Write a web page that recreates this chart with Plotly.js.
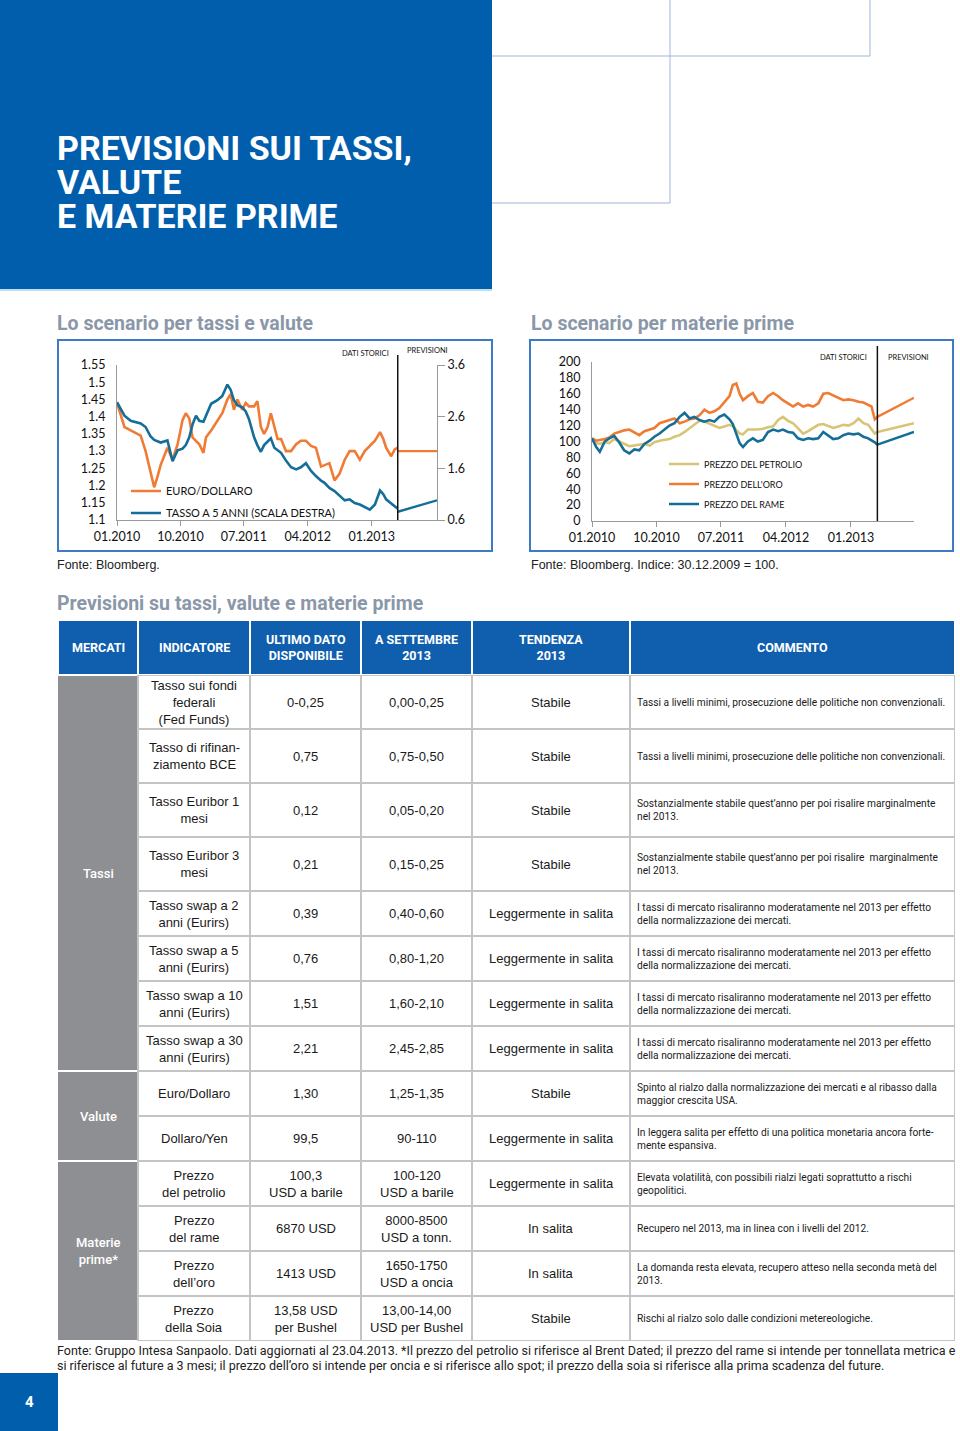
<!DOCTYPE html>
<html><head><meta charset="utf-8">
<script src="https://cdn.plot.ly/plotly-3.0.1.min.js"></script>
<style>html,body{margin:0;padding:0;background:#fff;}#page{width:960px;height:1431px;}</style>
</head><body><div id="page"></div>
<script>
// ---------------- DATA ----------------
// Chart 1: Euro/Dollaro (left axis) and Tasso a 5 anni (right axis)
const fxDates = ['2010-01-01','2010-02-02','2010-03-01','2010-04-13','2010-05-04','2010-05-25','2010-06-10','2010-06-24','2010-07-08','2010-08-06','2010-08-28','2010-09-19','2010-10-10','2010-10-24','2010-11-08','2010-11-22','2010-12-07','2010-12-21',
 '2011-01-08','2011-01-19','2011-02-10','2011-03-09','2011-03-30','2011-04-21','2011-05-05','2011-05-19','2011-06-03','2011-06-24','2011-07-09','2011-07-23','2011-08-14','2011-08-28','2011-09-12','2011-09-26','2011-10-11','2011-10-25','2011-11-09','2011-11-23','2011-12-08','2011-12-29',
 '2012-01-20','2012-02-11','2012-03-02','2012-03-24','2012-04-15','2012-05-06','2012-05-28','2012-06-12','2012-07-03','2012-07-25','2012-08-16','2012-09-07','2012-09-28','2012-10-20','2012-11-11','2012-12-02','2012-12-24',
 '2013-01-15','2013-02-06','2013-02-20','2013-03-04','2013-03-26','2013-04-10','2013-04-23'];
const eurUsd = [1.44,1.37,1.36,1.345,1.30,1.235,1.195,1.225,1.26,1.31,1.275,1.32,1.39,1.41,1.395,1.34,1.33,1.32,
 1.295,1.34,1.36,1.39,1.41,1.45,1.465,1.42,1.45,1.42,1.44,1.43,1.43,1.445,1.37,1.35,1.37,1.41,1.37,1.335,1.335,1.30,
 1.30,1.32,1.33,1.33,1.315,1.31,1.255,1.26,1.265,1.215,1.235,1.275,1.30,1.30,1.275,1.30,1.315,
 1.33,1.355,1.335,1.31,1.285,1.305,1.31];
const swap5y = [2.88,2.62,2.52,2.47,2.40,2.22,2.15,2.12,2.10,2.14,1.74,1.95,1.98,2.05,2.20,2.45,2.62,2.52,
 2.50,2.62,2.85,2.92,3.00,3.22,3.12,2.92,2.82,2.78,2.70,2.55,2.20,2.05,1.92,2.05,2.12,2.18,2.00,1.95,1.90,1.75,
 1.62,1.58,1.62,1.70,1.55,1.45,1.36,1.32,1.22,1.16,1.06,0.98,1.00,0.93,0.90,0.85,0.80,
 0.90,1.17,1.10,1.00,0.92,0.86,0.82];
const fxForecastDates = ['2013-04-23','2013-10-09'];
const eurUsdForecast = [1.30,1.30];
const swap5yForecast = [0.76,0.98];
const cutoffDate = '2013-04-23';
const xTickDates = ['2010-01-01','2010-10-01','2011-07-01','2012-04-01','2013-01-01'];

// Chart 2: commodities index (30.12.2009 = 100)
const cmdDates = ['2010-01-01','2010-01-19','2010-02-03','2010-02-24','2010-03-15','2010-04-05','2010-04-26','2010-05-17','2010-06-08','2010-06-29','2010-07-20','2010-08-11','2010-09-02','2010-09-22','2010-10-14','2010-11-04','2010-11-25','2010-12-16',
 '2011-01-07','2011-01-28','2011-02-18','2011-03-10','2011-04-01','2011-04-22','2011-05-13','2011-06-03','2011-06-24','2011-07-15','2011-08-06','2011-08-20','2011-09-04','2011-09-18','2011-10-02','2011-10-23','2011-11-13','2011-12-04','2011-12-25',
 '2012-01-16','2012-02-07','2012-02-28','2012-03-19','2012-04-10','2012-05-01','2012-05-22','2012-06-13','2012-07-04','2012-07-25','2012-08-16','2012-09-06','2012-09-27','2012-10-18','2012-11-09','2012-11-30','2012-12-21',
 '2013-01-12','2013-02-02','2013-02-23','2013-03-15','2013-03-29','2013-04-12','2013-04-23'];
const oilIndex = [102,98,97,99,98,103,100,97,94,95,96,97,95,99,101,102,103,106,
 108,112,117,121,126,125,122,120,117,119,121,119,115,110,109,115,115,115,116,
 118,119,127,131,126,123,117,110,113,117,121,122,119,117,119,121,120,
 123,129,123,121,115,110,112];
const goldIndex = [104,101,102,103,105,110,112,114,115,112,108,113,115,117,123,125,127,129,
 123,125,128,129,133,140,136,138,142,150,157,171,173,160,152,157,161,150,149,
 157,161,157,152,148,144,148,144,146,144,148,160,161,158,154,152,153,
 152,150,149,146,144,128,131];
const copperIndex = [104,93,87,100,104,107,99,89,85,90,89,97,101,106,110,115,120,123,
 131,136,129,131,127,125,127,125,131,134,128,122,110,98,93,100,104,100,102,
 112,115,113,115,112,111,104,102,104,103,104,112,108,103,104,108,110,
 109,110,106,104,102,99,96];
const cmdForecastDates = ['2013-04-23','2013-09-25'];
const oilForecast = [112,123];
const goldForecast = [131,155];
const copperForecast = [96,112];

// Table
const tableHeaders = ['MERCATI','INDICATORE','ULTIMO DATO<br>DISPONIBILE','A SETTEMBRE<br>2013','TENDENZA<br>2013','COMMENTO'];
const marketGroups = ['Tassi','Valute','Materie<br>prime*'];
const marketGroupSizes = [8,2,4];
const indicators = ['Tasso sui fondi<br>federali<br>(Fed Funds)','Tasso di rifinan-<br>ziamento BCE','Tasso Euribor 1<br>mesi','Tasso Euribor 3<br>mesi',
 'Tasso swap a 2<br>anni (Eurirs)','Tasso swap a 5<br>anni (Eurirs)','Tasso swap a 10<br>anni (Eurirs)','Tasso swap a 30<br>anni (Eurirs)',
 'Euro/Dollaro','Dollaro/Yen','Prezzo<br>del petrolio','Prezzo<br>del rame','Prezzo<br>dell’oro','Prezzo<br>della Soia'];
const lastAvailable = ['0-0,25','0,75','0,12','0,21','0,39','0,76','1,51','2,21','1,30','99,5','100,3<br>USD a barile','6870 USD','1413 USD','13,58 USD<br>per Bushel'];
const septemberForecast = ['0,00-0,25','0,75-0,50','0,05-0,20','0,15-0,25','0,40-0,60','0,80-1,20','1,60-2,10','2,45-2,85','1,25-1,35','90-110','100-120<br>USD a barile','8000-8500<br>USD a tonn.','1650-1750<br>USD a oncia','13,00-14,00<br>USD per Bushel'];
const trend2013 = ['Stabile','Stabile','Stabile','Stabile','Leggermente in salita','Leggermente in salita','Leggermente in salita','Leggermente in salita','Stabile','Leggermente in salita','Leggermente in salita','In salita','In salita','Stabile'];
const comments = [
 'Tassi a livelli minimi, prosecuzione delle politiche non convenzionali.',
 'Tassi a livelli minimi, prosecuzione delle politiche non convenzionali.',
 'Sostanzialmente stabile quest’anno per poi risalire marginalmente<br>nel 2013.',
 'Sostanzialmente stabile quest’anno per poi risalire  marginalmente<br>nel 2013.',
 'I tassi di mercato risaliranno moderatamente nel 2013 per effetto<br>della normalizzazione dei mercati.',
 'I tassi di mercato risaliranno moderatamente nel 2013 per effetto<br>della normalizzazione dei mercati.',
 'I tassi di mercato risaliranno moderatamente nel 2013 per effetto<br>della normalizzazione dei mercati.',
 'I tassi di mercato risaliranno moderatamente nel 2013 per effetto<br>della normalizzazione dei mercati.',
 'Spinto al rialzo dalla normalizzazione dei mercati e al ribasso dalla<br>maggior crescita USA.',
 'In leggera salita per effetto di una politica monetaria ancora forte-<br>mente espansiva.',
 'Elevata volatilità, con possibili rialzi legati soprattutto a rischi<br>geopolitici.',
 'Recupero nel 2013, ma in linea con i livelli del 2012.',
 'La domanda resta elevata, recupero atteso nella seconda metà del<br>2013.',
 'Rischi al rialzo solo dalle condizioni metereologiche.'];

// Page texts
const pageTitle = ['PREVISIONI SUI TASSI,','VALUTE','E MATERIE PRIME'];
const heading1 = 'Lo scenario per tassi e valute';
const heading2 = 'Lo scenario per materie prime';
const heading3 = 'Previsioni su tassi, valute e materie prime';
const source1 = 'Fonte: Bloomberg.';
const source2 = 'Fonte: Bloomberg. Indice: 30.12.2009 = 100.';
const footnote = ['Fonte: Gruppo Intesa Sanpaolo. Dati aggiornati al 23.04.2013. *Il prezzo del petrolio si riferisce al Brent Dated; il prezzo del rame si intende per tonnellata metrica e',
 'si riferisce al future a 3 mesi; il prezzo dell’oro si intende per oncia e si riferisce allo spot; il prezzo della soia si riferisce alla prima scadenza del future.'];
const pageNumber = '4';

// ---------------- STYLE ----------------
const W = 960, H = 1431;
const px = v => v / W, py = v => 1 - v / H;
const BLUE = '#005EAD', HEAD_BLUE = '#0F5FAE', GRID = '#C4C4C4', MGREY = '#8E8F92';
const ORANGE = '#EF7B35', TEAL = '#156E98', KHAKI = '#D8C474';
const fChart = 'Lato, "Open Sans", sans-serif';
const fBody = '"Liberation Sans", Arial, sans-serif';
const fNarrow = 'Roboto, "Liberation Sans", sans-serif';

const shapes = [], annotations = [];
function rectPaper(x0,y0,x1,y1,fill,line){ shapes.push({type:'rect',xref:'paper',yref:'paper',x0:px(x0),x1:px(x1),y0:py(y1),y1:py(y0),fillcolor:fill||'rgba(0,0,0,0)',line:line||{width:0}}); }
function linePaper(x0,y0,x1,y1,color,width){ shapes.push({type:'line',xref:'paper',yref:'paper',x0:px(x0),y0:py(y0),x1:px(x1),y1:py(y1),line:{color:color,width:width}}); }
function textPaper(text,x,y,font,xanchor){ annotations.push({text:text,x:px(x),y:py(y),xref:'paper',yref:'paper',xanchor:xanchor||'left',yanchor:'middle',showarrow:false,font:font,align:'left',borderpad:0}); }

// Page decoration
rectPaper(0,0,492,289,BLUE);
linePaper(0,290,492,290,'#A9D6EE',1.5);
linePaper(670,0,670,203,'#A3B3DA',1);
linePaper(492,56,870,56,'#A3B3DA',1);
linePaper(870,0,870,56,'#A3B3DA',1);
linePaper(492,203,670,203,'#A3B3DA',1);
// title: one block, tight leading (line step = 1.3 x 26px base), glyphs at 34px
textPaper(pageTitle.map(t=>'<span style="font-size:34px"><b>'+t+'</b></span>').join('<br>'),56,182,{family:fNarrow,size:26,color:'#ffffff'});
textPaper('<b>'+heading1+'</b>',56,323,{family:fNarrow,size:19.5,color:'#8A97A9'});
textPaper('<b>'+heading2+'</b>',530,323,{family:fNarrow,size:19.5,color:'#8A97A9'});
textPaper('<b>'+heading3+'</b>',56,604,{family:fNarrow,size:19.5,color:'#8A97A9'});
textPaper(source1,56,565,{family:fBody,size:12.5,color:'#222'});
textPaper(source2,530,565,{family:fBody,size:12.5,color:'#222'});
textPaper(footnote[0],56,1350,{family:fNarrow,size:12.5,color:'#222'});
textPaper(footnote[1],56,1365,{family:fNarrow,size:12.5,color:'#222'});
rectPaper(0,1373,58,1431,BLUE);
textPaper('<b>'+pageNumber+'</b>',29,1402,{family:fNarrow,size:15,color:'#ffffff'},'center');

// chart boxes
rectPaper(58,340,492,551,null,{color:'#3D7BC5',width:2});
rectPaper(530,340,953,551,null,{color:'#3D7BC5',width:2});

// cutoff lines and labels
shapes.push({type:'line',xref:'x',yref:'paper',x0:cutoffDate,x1:cutoffDate,y0:py(520),y1:py(355),line:{color:'#111',width:1.5}});
shapes.push({type:'line',xref:'x3',yref:'paper',x0:cutoffDate,x1:cutoffDate,y0:py(521),y1:py(346),line:{color:'#111',width:1.5}});
const smallLab = {family:fChart,size:7.5,color:'#111'};
annotations.push({text:'DATI STORICI',xref:'x',yref:'paper',x:cutoffDate,y:py(353),xanchor:'right',yanchor:'middle',xshift:-7,showarrow:false,font:smallLab});
annotations.push({text:'PREVISIONI',xref:'x',yref:'paper',x:cutoffDate,y:py(351),xanchor:'left',yanchor:'middle',xshift:7,showarrow:false,font:smallLab});
annotations.push({text:'DATI STORICI',xref:'x3',yref:'paper',x:cutoffDate,y:py(357),xanchor:'right',yanchor:'middle',xshift:-8,showarrow:false,font:smallLab});
annotations.push({text:'PREVISIONI',xref:'x3',yref:'paper',x:cutoffDate,y:py(357),xanchor:'left',yanchor:'middle',xshift:9,showarrow:false,font:smallLab});

// ---------------- TABLE (drawn on hidden axes x4/y4, 1 unit = 1 px) ----------------
const colW = [80,112,111,111,158,325];
const headerH = 55;
const rowH = [54,54,54,54,45,45,45,45,45,45,45,45,45,45];
const colEdge = [0]; colW.forEach(w=>colEdge.push(colEdge[colEdge.length-1]+w));
const rowTop = [headerH]; rowH.forEach(h=>rowTop.push(rowTop[rowTop.length-1]+h));
const tableW = colEdge[colEdge.length-1], tableH = rowTop[rowTop.length-1];
function rectT(x0,y0,x1,y1,fill){ shapes.push({type:'rect',xref:'x4',yref:'y4',x0:x0,x1:x1,y0:y0,y1:y1,fillcolor:fill,line:{width:0}}); }
function textT(text,x,y,font,xanchor,align){ annotations.push({text:text,x:x,y:y,xref:'x4',yref:'y4',xanchor:xanchor,yanchor:'middle',align:align,showarrow:false,font:font,borderpad:0}); }

tableHeaders.forEach((h,c)=>{
  rectT(colEdge[c]+1,1,colEdge[c+1]-1,headerH-1,HEAD_BLUE);
  textT('<b>'+h+'</b>',(colEdge[c]+colEdge[c+1])/2,headerH/2,{family:fNarrow,size:12.5,color:'#ffffff'},'center','center');
});
rectT(colEdge[1]-1,headerH,tableW,tableH,GRID);
let startRow = 0;
marketGroups.forEach((g,i)=>{
  const y0 = rowTop[startRow], y1 = rowTop[startRow+marketGroupSizes[i]];
  rectT(0,y0+1,colEdge[1]-1,y1-1,MGREY);
  textT(g,colEdge[1]/2,(y0+y1)/2,{family:fNarrow,size:13,color:'#ffffff',weight:500},'center','center');
  startRow += marketGroupSizes[i];
});
const bodyCols = [indicators,lastAvailable,septemberForecast,trend2013,comments];
indicators.forEach((_,r)=>{
  const yc = (rowTop[r]+rowTop[r+1])/2;
  bodyCols.forEach((col,k)=>{
    const c = k+1;
    rectT(colEdge[c]+1,rowTop[r]+1,colEdge[c+1]-1,rowTop[r+1]-1,'#ffffff');
    if (c===5) textT(col[r],colEdge[c]+6,yc,{family:fNarrow,size:10.2,color:'#1a1a1a'},'left','left');
    else textT(col[r],(colEdge[c]+colEdge[c+1])/2,yc,{family:fBody,size:13,color:'#1a1a1a'},'center','center');
  });
});

// ---------------- TRACES ----------------
const traces = [
  {x:fxDates,y:eurUsd,type:'scatter',mode:'lines',name:'EURO/DOLLARO',line:{color:ORANGE,width:2.6},xaxis:'x',yaxis:'y',legend:'legend',legendgroup:'a'},
  {x:fxDates,y:swap5y,type:'scatter',mode:'lines',name:'TASSO A 5 ANNI (SCALA DESTRA)',line:{color:TEAL,width:2.6},xaxis:'x',yaxis:'y2',legend:'legend',legendgroup:'b'},
  {x:fxForecastDates,y:eurUsdForecast,type:'scatter',mode:'lines',showlegend:false,line:{color:ORANGE,width:2.4},xaxis:'x',yaxis:'y'},
  {x:fxForecastDates,y:swap5yForecast,type:'scatter',mode:'lines',showlegend:false,line:{color:TEAL,width:2.4},xaxis:'x',yaxis:'y2'},
  {x:cmdDates,y:oilIndex,type:'scatter',mode:'lines',name:'PREZZO DEL PETROLIO',line:{color:KHAKI,width:2.6},xaxis:'x3',yaxis:'y3',legend:'legend2',legendgroup:'c'},
  {x:cmdDates,y:goldIndex,type:'scatter',mode:'lines',name:"PREZZO DELL'ORO",line:{color:ORANGE,width:2.6},xaxis:'x3',yaxis:'y3',legend:'legend2',legendgroup:'d'},
  {x:cmdDates,y:copperIndex,type:'scatter',mode:'lines',name:'PREZZO DEL RAME',line:{color:TEAL,width:2.6},xaxis:'x3',yaxis:'y3',legend:'legend2',legendgroup:'e'},
  {x:cmdForecastDates,y:oilForecast,type:'scatter',mode:'lines',showlegend:false,line:{color:KHAKI,width:2.4},xaxis:'x3',yaxis:'y3'},
  {x:cmdForecastDates,y:goldForecast,type:'scatter',mode:'lines',showlegend:false,line:{color:ORANGE,width:2.4},xaxis:'x3',yaxis:'y3'},
  {x:cmdForecastDates,y:copperForecast,type:'scatter',mode:'lines',showlegend:false,line:{color:TEAL,width:2.4},xaxis:'x3',yaxis:'y3'},
  {x:[],y:[],type:'scatter',mode:'lines',showlegend:false,xaxis:'x4',yaxis:'y4'}
];

const tickFont = {family:fChart,size:12.5,color:'#111'};
const dateAxis = {type:'date',tickmode:'array',tickvals:xTickDates,tickformat:'%m.%Y',ticks:'outside',ticklen:5,tickcolor:'#999',showline:true,linecolor:'#999',linewidth:1,showgrid:false,zeroline:false,tickfont:tickFont,fixedrange:true};
const layout = {
  width:W,height:H,margin:{l:0,r:0,t:0,b:0},paper_bgcolor:'#ffffff',plot_bgcolor:'rgba(0,0,0,0)',
  font:{family:fChart},
  showlegend:true,
  xaxis:Object.assign({},dateAxis,{domain:[px(117),px(437)],anchor:'y',range:['2010-01-01','2013-10-09']}),
  yaxis:{domain:[py(520),py(365)],anchor:'x',range:[1.1,1.55],tick0:1.1,dtick:0.05,showline:true,linecolor:'#999',ticks:'',showgrid:false,zeroline:false,tickfont:tickFont,ticklabelstandoff:8,fixedrange:true},
  yaxis2:{overlaying:'y',side:'right',anchor:'x',range:[0.6,3.6],tick0:0.6,dtick:1,tickformat:'.1f',ticks:'outside',ticklen:7,tickcolor:'#999',showline:true,linecolor:'#999',showgrid:false,zeroline:false,tickfont:tickFont,fixedrange:true},
  xaxis3:Object.assign({},dateAxis,{domain:[px(592),px(914)],anchor:'y3',range:['2010-01-01','2013-09-25']}),
  yaxis3:{domain:[py(521),py(362)],anchor:'x3',range:[0,200],dtick:20,showline:true,linecolor:'#999',ticks:'',showgrid:false,zeroline:false,tickfont:tickFont,ticklabelstandoff:8,fixedrange:true},
  xaxis4:{domain:[px(58),px(58+tableW)],anchor:'y4',range:[0,tableW],visible:false,fixedrange:true},
  yaxis4:{domain:[py(620+tableH),py(620)],anchor:'x4',range:[tableH,0],visible:false,fixedrange:true},
  legend:{x:px(126),y:py(502),xanchor:'left',yanchor:'middle',bgcolor:'rgba(0,0,0,0)',font:{family:fChart,size:11,color:'#111'},tracegroupgap:3},
  legend2:{x:px(664),y:py(484),xanchor:'left',yanchor:'middle',bgcolor:'rgba(0,0,0,0)',font:{family:fChart,size:9,color:'#111'},tracegroupgap:1},
  shapes:shapes,annotations:annotations
};
Plotly.newPlot('page',traces,layout,{staticPlot:true,displayModeBar:false});
</script></body></html>
